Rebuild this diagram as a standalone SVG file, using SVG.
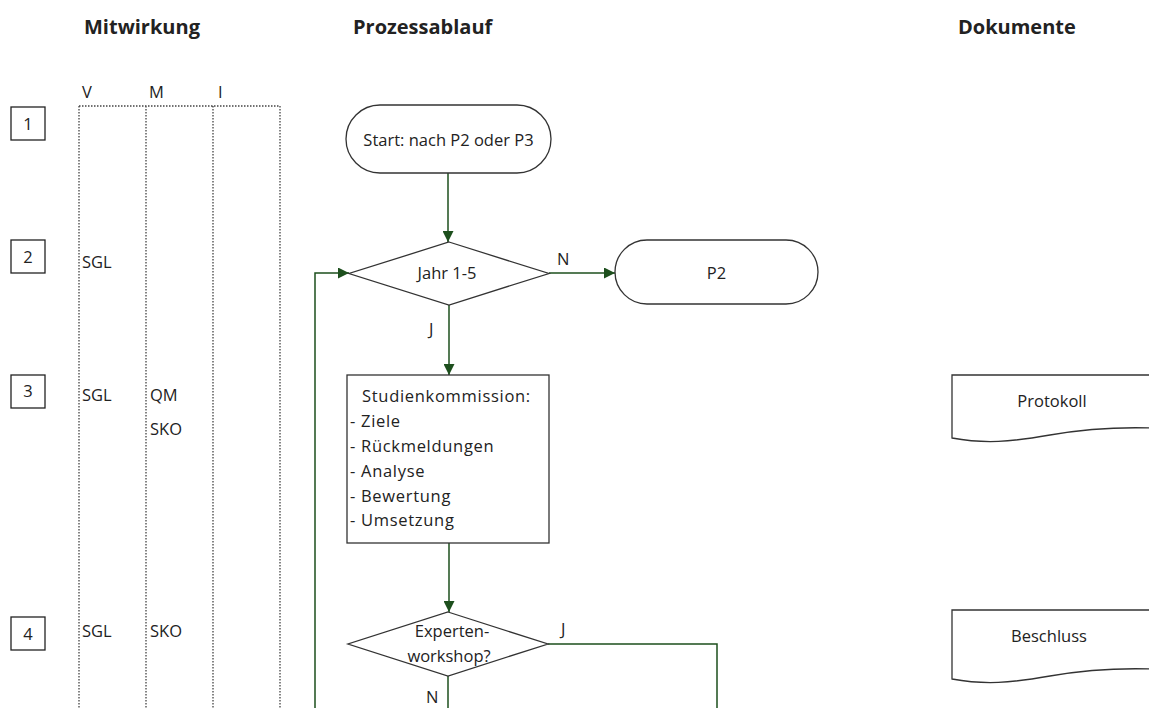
<svg xmlns="http://www.w3.org/2000/svg" width="1149" height="708" viewBox="0 0 1149 708">
<defs>
<marker id="arr" viewBox="0 0 10 10" refX="10" refY="5" markerWidth="11" markerHeight="11" markerUnits="userSpaceOnUse" orient="auto">
<path d="M0,0 L10,5 L0,10 z" fill="#1d4f1d"/>
</marker>
<style>
text{font-family:"Open Sans","Liberation Sans",sans-serif;fill:#222}
.h{font-size:20px;font-weight:bold}
.t{font-size:16.5px}
.sp{letter-spacing:0.7px}
.shape{fill:#fff;stroke:#333;stroke-width:1.3}
.lane{fill:none;stroke:#444;stroke-width:1.3;stroke-dasharray:1.5 1.5}
.num{fill:#fff;stroke:#222;stroke-width:1.3}
.con{fill:none;stroke:#1d4f1d;stroke-width:1.5}
</style>
</defs>
<rect width="1149" height="708" fill="#fff"/>

<!-- column headers -->
<text class="h" x="84" y="34">Mitwirkung</text>
<text class="h" x="353" y="34">Prozessablauf</text>
<text class="h" x="958" y="34">Dokumente</text>

<!-- participation lanes -->
<g id="lanes">
<text class="t" x="82" y="98">V</text>
<text class="t" x="149" y="98">M</text>
<text class="t" x="218" y="98">I</text>
<path class="lane" d="M79,106 H280 M79,106 V708 M146,106 V708 M213,106 V708 M280,106 V708"/>
</g>

<!-- step numbers -->
<g id="step1"><rect class="num" x="11" y="107" width="34" height="33"/><text class="t" x="28" y="130" text-anchor="middle">1</text></g>
<g id="step2"><rect class="num" x="11" y="240" width="34" height="33"/><text class="t" x="28" y="263" text-anchor="middle">2</text></g>
<g id="step3"><rect class="num" x="11" y="375" width="34" height="33"/><text class="t" x="28" y="397" text-anchor="middle">3</text></g>
<g id="step4"><rect class="num" x="11" y="617" width="34" height="33"/><text class="t" x="28" y="640" text-anchor="middle">4</text></g>

<!-- roles -->
<g id="roles">
<text class="t" x="82" y="268">SGL</text>
<text class="t" x="82" y="401">SGL</text>
<text class="t" x="150" y="401">QM</text>
<text class="t" x="150" y="435">SKO</text>
<text class="t" x="82" y="637">SGL</text>
<text class="t" x="150" y="637">SKO</text>
</g>

<!-- connectors -->
<g id="connectors">
<path class="con" d="M448,173 V242" marker-end="url(#arr)"/>
<path class="con" d="M549,273 H615" marker-end="url(#arr)"/>
<path class="con" d="M449,305 V375" marker-end="url(#arr)"/>
<path class="con" d="M449,543 V612" marker-end="url(#arr)"/>
<path class="con" d="M315,708 V273 H349" marker-end="url(#arr)"/>
<path class="con" d="M548,644 H717 V708"/>
<path class="con" d="M448,676 V708"/>
<text class="t" x="557" y="265">N</text>
<text class="t" x="429" y="335">J</text>
<text class="t" x="561" y="635">J</text>
<text class="t" x="426" y="703">N</text>
</g>

<!-- process nodes -->
<g id="start">
<rect class="shape" x="346" y="105" width="205" height="68" rx="34"/>
<text class="t" x="448.5" y="146" text-anchor="middle">Start: nach P2 oder P3</text>
</g>
<g id="jahr">
<path class="shape" d="M449,242 L549,273.5 L449,305 L349,273.5 z"/>
<text class="t" x="447" y="279" text-anchor="middle">Jahr 1-5</text>
</g>
<g id="p2">
<rect class="shape" x="615" y="240" width="203" height="64" rx="32"/>
<text class="t" x="716.5" y="279" text-anchor="middle">P2</text>
</g>
<g id="studienkommission">
<rect class="shape" x="347" y="375" width="202" height="168"/>
<text class="t sp" x="362" y="402">Studienkommission:</text>
<text class="t sp" x="350" y="427">- Ziele</text>
<text class="t sp" x="350" y="452">- Rückmeldungen</text>
<text class="t sp" x="350" y="477">- Analyse</text>
<text class="t sp" x="350" y="502">- Bewertung</text>
<text class="t sp" x="350" y="526">- Umsetzung</text>
</g>
<g id="experten">
<path class="shape" d="M448,612 L548,644 L448,676 L348,644 z"/>
<text class="t" x="452" y="637" text-anchor="middle">Experten-</text>
<text class="t" x="449" y="662" text-anchor="middle">workshop?</text>
</g>

<!-- documents -->
<g id="protokoll">
<path class="shape" d="M1152,375 H952 V438 C985,444 1010,442 1050,435 C1090,428 1120,427 1152,428"/>
<text class="t" x="1052" y="407" text-anchor="middle">Protokoll</text>
</g>
<g id="beschluss">
<path class="shape" d="M1152,610 H952 V679 C985,685 1010,683 1050,676 C1090,669 1120,668 1152,669"/>
<text class="t" x="1049" y="642" text-anchor="middle">Beschluss</text>
</g>
</svg>
